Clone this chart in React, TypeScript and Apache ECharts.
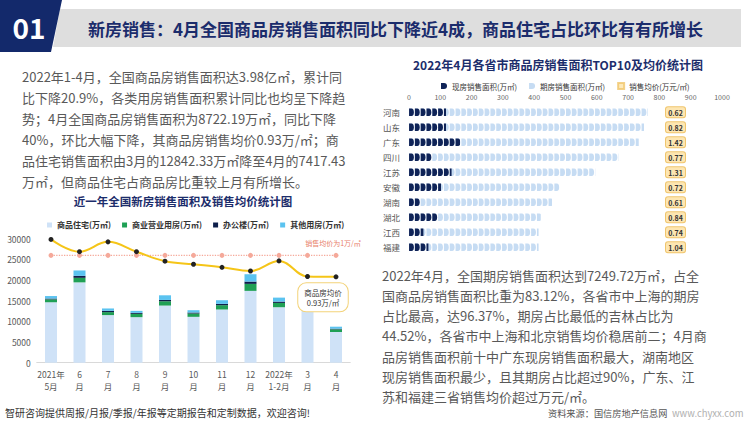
import React, { useEffect, useRef } from "react";
import * as echarts from "echarts";

// ---------- Left chart data ----------
const months = ["2021年\n5月", "6\n月", "7\n月", "8\n月", "9\n月", "10\n月", "11\n月", "12\n月", "2022年\n1-2月", "3\n月", "4\n月"];
const residential = [14600, 19400, 11500, 11000, 13800, 11080, 12850, 17350, 13400, 12842, 7417];
const commercial = [700, 1100, 720, 800, 1040, 800, 1040, 1690, 1040, 1200, 640];
const office = [200, 480, 320, 240, 320, 240, 320, 560, 320, 300, 160];
const otherUse = [600, 1300, 560, 480, 1120, 560, 880, 1770, 960, 1000, 480];
const avgPrice = [1.052, 1.012, 1.044, 1.012, 0.981, 0.971, 0.961, 0.949, 0.982, 0.931, 0.93];
const refPrice = [1, 1, 1, 1, 1, 1, 1, 1, 1, 1, 1];
const areaTicks = { min: 0, max: 30000, interval: 5000 };

// ---------- Right chart data ----------
const provinces = ["河南", "山东", "广东", "四川", "江苏", "安徽", "湖南", "湖北", "江西", "福建"];
const presentSales = [118, 118, 163, 73, 136, 102, 37, 92, 46, 62];
const futureSales = [645, 633, 571, 596, 459, 379, 420, 329, 368, 352];
const provincePrice = [0.62, 0.82, 1.42, 0.77, 1.31, 0.72, 0.61, 0.84, 0.74, 1.04];

// ---------- Texts ----------
const headerTitle = "新房销售：4月全国商品房销售面积同比下降近4成，商品住宅占比环比有有所增长";
const leftPara = [
  "2022年1-4月，全国商品房销售面积达3.98亿㎡，累计同",
  "比下降20.9%，各类用房销售面积累计同比也均呈下降趋",
  "势；4月全国商品房销售面积为8722.19万㎡，同比下降",
  "40%，环比大幅下降，其商品房销售均价0.93万/㎡；商",
  "品住宅销售面积由3月的12842.33万㎡降至4月的7417.43",
  "万㎡，但商品住宅占商品房比重较上月有所增长。",
];
const rightPara = [
  "2022年4月，全国期房销售面积达到7249.72万㎡，占全",
  "国商品房销售面积比重为83.12%，各省市中上海的期房",
  "占比最高，达96.37%，期房占比最低的吉林占比为",
  "44.52%，各省市中上海和北京销售均价稳居前二；4月商",
  "品房销售面积前十中广东现房销售面积最大，湖南地区",
  "现房销售面积最少，且其期房占比超过90%，广东、江",
  "苏和福建三省销售均价超过万元/㎡。",
];

const FONT = "'Noto Sans CJK SC', 'Noto Sans', sans-serif";
const PIN = "path://M0,0 L5,0 A5,5 0 0 1 5,10 L0,10 Z";

function txt(text: string, x: number, y: number, size: number, color: string, weight = "normal", align = "left") {
  return {
    type: "text",
    x,
    y,
    silent: true,
    style: {
      text,
      fill: color,
      font: `${weight} ${size}px ${FONT}`,
      textAlign: align,
      textVerticalAlign: "middle",
    },
  };
}

const plain = (v: number) => String(v);

function buildOption() {
  const last = avgPrice.length - 1;
  const graphics: any[] = [
    { type: "polygon", silent: true, shape: { points: [[60, 9], [741, 9], [741, 47], [53, 47]] }, style: { fill: "#dedede" } },
    { type: "polygon", silent: true, shape: { points: [[0, 0], [62, 0], [51, 52], [0, 52]] }, style: { fill: "#13296b" } },
    txt("01", 29, 27, 28, "#ffffff", "bold", "center"),
    txt(headerTitle, 88, 28, 17, "#1b2c6c", "bold"),
    txt("近一年全国新房销售面积及销售均价统计图", 183, 201, 11.5, "#1c2d6b", "bold", "center"),
    txt("2022年4月各省市商品房销售面积TOP10及均价统计图", 558, 64, 12, "#1c2d6b", "bold", "center"),
    txt("智研咨询提供周报/月报/季报/年报等定期报告和定制数据，欢迎咨询!", 5, 412, 10, "#333333"),
    txt("资料来源：国信房地产信息网", 548, 413, 9.2, "#555555"),
    txt("www.chyxx.com", 672, 413, 9.5, "#b0b0b0"),
  ];
  leftPara.forEach((line, i) => graphics.push(txt(line, 22, 76 + i * 21, 13, "#595959")));
  rightPara.forEach((line, i) => graphics.push(txt(line, 382, 275 + i * 20.3, 13, "#595959")));

  return {
    animation: false,
    backgroundColor: "#ffffff",
    textStyle: { fontFamily: FONT },
    graphic: graphics,
    legend: [
      {
        data: ["商品住宅(万㎡)", "商业营业用房(万㎡)", "办公楼(万㎡)", "其他用房(万㎡)"],
        left: 42,
        top: 216,
        icon: "rect",
        itemWidth: 5,
        itemHeight: 5,
        itemGap: 11,
        textStyle: { fontSize: 8, fontWeight: "bold", color: "#333" },
      },
      {
        data: [
          { name: "现房销售面积(万㎡)", icon: PIN },
          { name: "期房销售面积(万㎡)", icon: PIN },
          { name: "销售均价(万元/㎡)", icon: "rect" },
        ],
        left: 436,
        top: 77,
        itemWidth: 6,
        itemHeight: 6,
        itemGap: 12,
        textStyle: { fontSize: 7.5, color: "#333" },
      },
    ],
    grid: [
      { left: 36.75, right: 399.75, top: 238.5, bottom: 59.3 },
      { left: 409, right: 28, top: 104.8, bottom: 167.2 },
    ],
    xAxis: [
      {
        gridIndex: 0,
        type: "category",
        data: months,
        axisLine: { lineStyle: { color: "#d9d9d9" } },
        axisTick: { show: false },
        axisLabel: { fontSize: 8.5, color: "#595959", lineHeight: 12, margin: 5, interval: 0 },
      },
      {
        gridIndex: 1,
        type: "value",
        position: "top",
        min: 0,
        max: 1000,
        interval: 100,
        axisLine: { show: false },
        axisTick: { show: false },
        splitLine: { show: false },
        axisLabel: { fontSize: 7, color: "#666", margin: 4, formatter: plain },
      },
    ],
    yAxis: [
      {
        gridIndex: 0,
        type: "value",
        ...areaTicks,
        axisLine: { show: false },
        axisTick: { show: false },
        splitLine: { show: false },
        axisLabel: { fontSize: 8.5, color: "#595959", margin: 6, formatter: plain },
      },
      {
        gridIndex: 0,
        type: "value",
        min: 0.65,
        max: 1.055,
        show: false,
        splitLine: { show: false },
      },
      {
        gridIndex: 1,
        type: "category",
        data: provinces,
        inverse: true,
        axisLine: { show: false },
        axisTick: { show: false },
        axisLabel: { fontSize: 8.5, color: "#555", margin: 9, interval: 0 },
      },
      {
        gridIndex: 1,
        type: "category",
        data: provincePrice.map((p) => p.toFixed(2)),
        inverse: true,
        position: "right",
        offset: -56,
        axisLine: { show: false },
        axisTick: { show: false },
        axisLabel: {
          margin: 0,
          interval: 0,
          formatter: (v: string) => `{b|${v}}`,
          rich: {
            b: {
              backgroundColor: "#fde6b2",
              borderColor: "#f0c56c",
              borderWidth: 1,
              borderRadius: 2,
              padding: [2, 3, 1, 3],
              fontSize: 7,
              fontWeight: "bold",
              color: "#333",
              width: 13,
              align: "center",
            },
          },
        },
      },
    ],
    series: [
      { name: "商品住宅(万㎡)", type: "bar", stack: "area", xAxisIndex: 0, yAxisIndex: 0, barWidth: 12, data: residential, itemStyle: { color: "#cfe2f7" } },
      { name: "商业营业用房(万㎡)", type: "bar", stack: "area", xAxisIndex: 0, yAxisIndex: 0, barWidth: 12, data: commercial, itemStyle: { color: "#1fa055" } },
      { name: "办公楼(万㎡)", type: "bar", stack: "area", xAxisIndex: 0, yAxisIndex: 0, barWidth: 12, data: office, itemStyle: { color: "#0e1f4a" } },
      { name: "其他用房(万㎡)", type: "bar", stack: "area", xAxisIndex: 0, yAxisIndex: 0, barWidth: 12, data: otherUse, itemStyle: { color: "#5bc3f0" } },
      {
        name: "参考均价",
        type: "line",
        xAxisIndex: 0,
        yAxisIndex: 1,
        silent: true,
        z: 3,
        symbol: "circle",
        symbolSize: 5,
        itemStyle: { color: "#f5a99a" },
        lineStyle: { color: "#f5a99a", type: "dotted", width: 1.3 },
        data: refPrice.map((v, i) =>
          i === last
            ? { value: v, label: { show: true, position: "top", distance: 6, offset: [-3, 0], formatter: "销售均价为1万/㎡", color: "#e8806a", fontSize: 7 } }
            : v
        ),
      },
      {
        name: "销售均价",
        type: "line",
        xAxisIndex: 0,
        yAxisIndex: 1,
        smooth: 0.4,
        z: 5,
        symbol: "circle",
        symbolSize: 5,
        itemStyle: { color: "#222222" },
        lineStyle: { color: "#f5c518", width: 2 },
        data: avgPrice.map((v, i) =>
          i === last
            ? {
                value: v,
                label: {
                  show: true,
                  position: "bottom",
                  distance: 4,
                  offset: [-13, 0],
                  formatter: `商品房均价\n${v.toFixed(2)}万/㎡`,
                  backgroundColor: "#ffffff",
                  borderColor: "#f3d37a",
                  borderWidth: 1,
                  borderRadius: 8,
                  padding: [4, 6],
                  fontSize: 7.5,
                  lineHeight: 10,
                  color: "#333",
                  align: "center",
                },
              }
            : v
        ),
      },
      {
        name: "期房销售面积(万㎡)",
        type: "pictorialBar",
        xAxisIndex: 1,
        yAxisIndex: 2,
        symbol: PIN,
        symbolRepeat: true,
        symbolClip: true,
        symbolSize: [4.9, 7.5],
        symbolMargin: 0.5,
        barGap: "-100%",
        z: 2,
        itemStyle: { color: "#c6dcf3" },
        data: presentSales.map((p, i) => p + futureSales[i]),
      },
      {
        name: "现房销售面积(万㎡)",
        type: "pictorialBar",
        xAxisIndex: 1,
        yAxisIndex: 2,
        symbol: PIN,
        symbolRepeat: true,
        symbolClip: true,
        symbolSize: [4.9, 7.5],
        symbolMargin: 0.5,
        barGap: "-100%",
        z: 3,
        itemStyle: { color: "#0f2357" },
        data: presentSales,
      },
      {
        name: "销售均价(万元/㎡)",
        type: "scatter",
        xAxisIndex: 1,
        yAxisIndex: 2,
        data: [],
        itemStyle: { color: "#fde3a7", borderColor: "#f0c56c", borderWidth: 1 },
      },
    ],
  };
}

export default function App() {
  const ref = useRef<HTMLDivElement>(null);
  useEffect(() => {
    if (!ref.current) return;
    const chart = echarts.init(ref.current, undefined, { renderer: "svg" });
    chart.setOption(buildOption() as any);
    return () => chart.dispose();
  }, []);
  return (
    <div
      ref={ref}
      style={{ position: "fixed", left: 0, top: 0, width: 750, height: 422, background: "#fff" }}
    />
  );
}
